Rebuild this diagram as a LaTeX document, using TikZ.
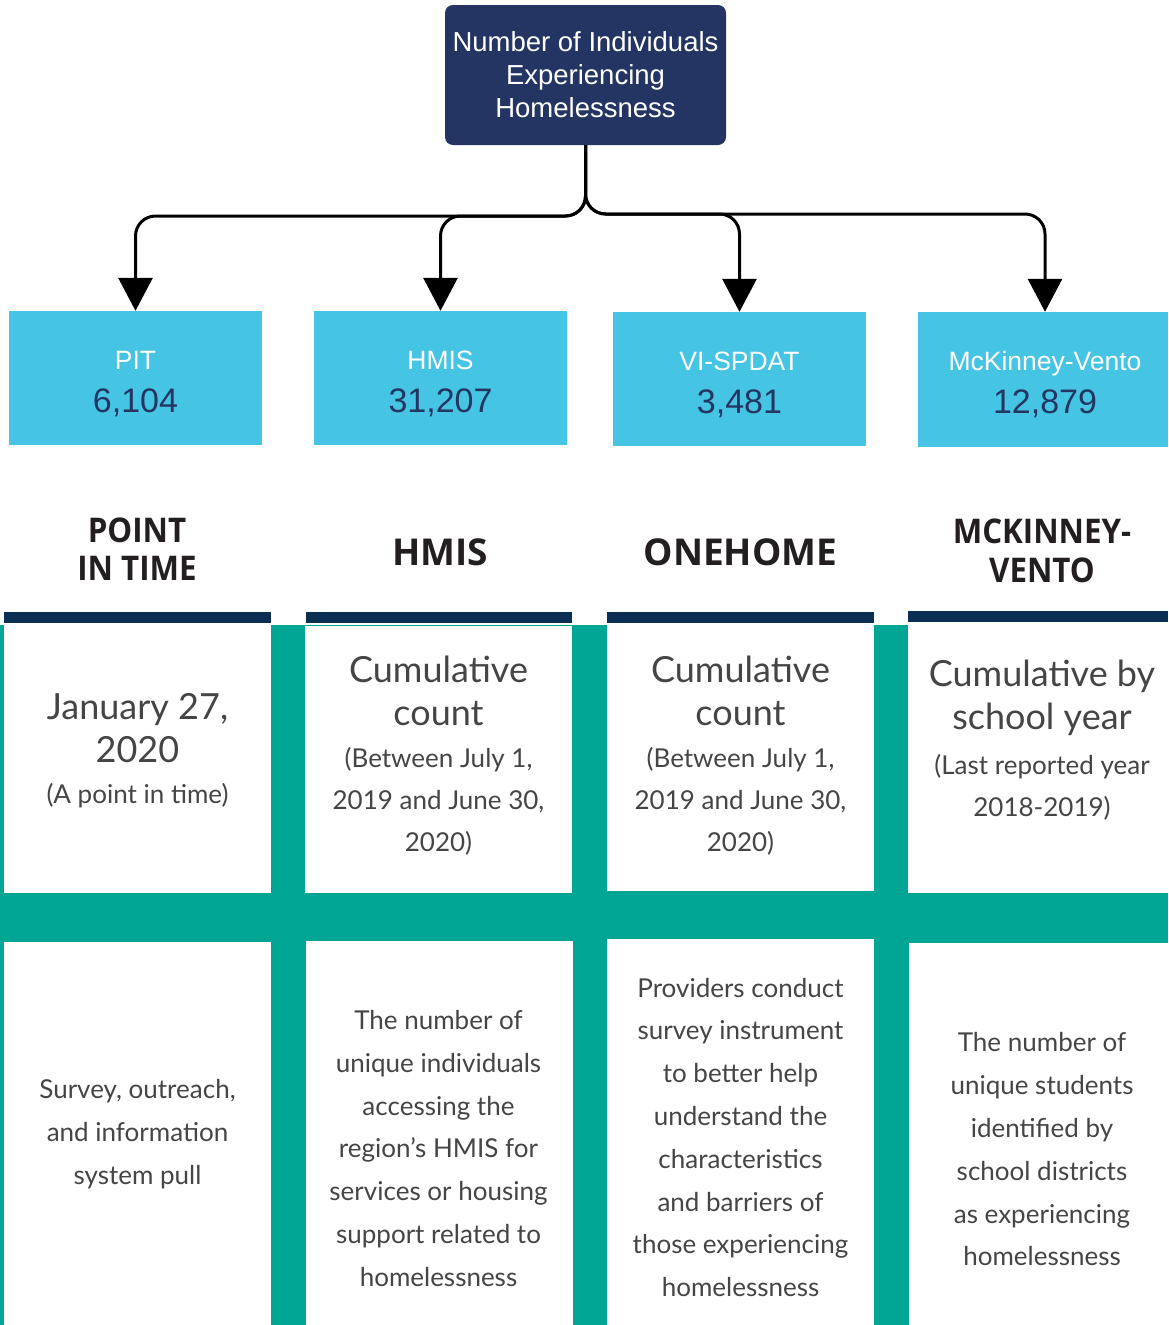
\documentclass[tikz,border=0pt]{standalone}
\usepackage{fontspec}
\setmainfont{Liberation Sans}
\newfontfamily\hdrfont{Open Sans}
\newfontfamily\hdrnarrow{Open Sans}[FakeStretch=0.92]
\newfontfamily\cellfont{Lato}
\usetikzlibrary{arrows.meta}
\definecolor{navy}{HTML}{243563}
\definecolor{cyanbox}{HTML}{45C4E3}
\definecolor{tealgrid}{HTML}{00A693}
\definecolor{barnavy}{HTML}{0B2F52}
\definecolor{hdrtext}{HTML}{231F20}
\definecolor{celltext}{HTML}{454545}
\tikzset{
  topbox/.style={fill=navy, rounded corners=8pt, minimum width=281pt, minimum height=140pt, inner sep=0pt, text=white, align=center, font=\fontsize{27.5}{33}\selectfont},
  cbox/.style={fill=cyanbox, minimum width=253pt, minimum height=134pt, inner sep=0pt},
  clabel/.style={text=white, anchor=base, inner sep=0pt, font=\fontsize{26.5}{30}\selectfont},
  cnum/.style={text=navy, anchor=base, inner sep=0pt, font=\fontsize{34}{38}\selectfont},
  hdr/.style={text=hdrtext, align=center, inner sep=0pt, font=\hdrfont\bfseries\fontsize{37}{38.5}\selectfont},
  hdrtwo/.style={text=hdrtext, align=center, inner sep=0pt, font=\hdrnarrow\bfseries\fontsize{34}{38.5}\selectfont},
  bar/.style={fill=barnavy},
  bigtxt/.style={text=celltext, align=center, inner sep=0pt, font=\cellfont\fontsize{36}{43}\selectfont},
  smalltxt/.style={text=celltext, align=center, inner sep=0pt, font=\cellfont\fontsize{26}{42}\selectfont},
  bodytxt/.style={text=celltext, align=center, inner sep=0pt, font=\cellfont\fontsize{26}{42.8}\selectfont},
  conn/.style={line width=3pt, rounded corners=20pt, -{Triangle[length=33pt,width=34pt]}}
}
\begin{document}
\begin{tikzpicture}[x=1pt,y=-1pt]
\useasboundingbox (0,0) rectangle (1168,1325);

% top box
\node[topbox] (top) at (585.5,75) {Number of Individuals\\Experiencing\\Homelessness};

% cyan boxes
\node[cbox] (pit) at (135.5,378) {};
\node[cbox] (hmis) at (440.5,378) {};
\node[cbox] (vi) at (739.5,379) {};
\node[cbox, minimum width=250pt, minimum height=135pt] (mv) at (1043,379.5) {};

\node[clabel] (pitl) at (135.5,369) {PIT};
\node[cnum] (pitn) at (135.5,412) {6,104};
\node[clabel] (hmisl) at (440.5,369) {HMIS};
\node[cnum] (hmisn) at (440.5,412) {31,207};
\node[clabel] (vil) at (739.5,370) {VI-SPDAT};
\node[cnum] (vin) at (739.5,413) {3,481};
\node[clabel] (mvl) at (1045,370) {McKinney-Vento};
\node[cnum] (mvn) at (1045,413) {12,879};

% connectors
\coordinate (b1) at (135.5,216);
\coordinate (b2) at (440.5,216);
\coordinate (b3) at (739.5,214);
\coordinate (b4) at (1045,214);
\draw[conn] (top.south) |- (b1) -- (pit.north);
\draw[conn] (top.south) |- (b2) -- (hmis.north);
\draw[conn] (top.south) |- (b3) -- (vi.north);
\draw[conn] (top.south) |- (b4) -- (mv.north -| b4);

% headers
\node[hdrtwo] (h1) at (137,549) {POINT\\IN TIME};
\node[hdr, anchor=base] (h2) at (440,565) {HMIS};
\node[hdr, anchor=base] (h3) at (740.5,565) {ONEHOME};
\node[hdrtwo] (h4) at (1042,551) {MCKINNEY-\\VENTO};

% navy bars
\fill[bar] (4,612) rectangle (271,623);
\fill[bar] (306,612) rectangle (572,623);
\fill[bar] (607,612) rectangle (874,623);
\fill[bar] (908,611) rectangle (1168,622);

% teal grid
\fill[tealgrid] (0,625) rectangle (1168,1325);
\fill[white] (4,625) rectangle (271,893);
\fill[white] (4,942) rectangle (271,1325);
\fill[white] (305,626) rectangle (572,893);
\fill[white] (306,941) rectangle (573,1325);
\fill[white] (607,625) rectangle (874,891);
\fill[white] (607,939) rectangle (874,1325);
\fill[white] (908,625) rectangle (1168,893);
\fill[white] (909,943) rectangle (1168,1325);

% top cells
\node[bigtxt] (c1a) at (137.5,728) {January 27,\\2020};
\node[smalltxt] (c1b) at (137.5,796) {(A point in time)};
\node[bigtxt] (c2a) at (438.5,691) {Cumulative\\count};
\node[smalltxt] (c2b) at (438.5,801) {(Between July 1,\\2019 and June 30,\\2020)};
\node[bigtxt] (c3a) at (740.5,691) {Cumulative\\count};
\node[smalltxt] (c3b) at (740.5,801) {(Between July 1,\\2019 and June 30,\\2020)};
\node[bigtxt] (c4a) at (1042,698) {Cumulative by\\school year};
\node[smalltxt] (c4b) at (1042,787) {(Last reported year\\2018-2019)};

% bottom cells
\node[bodytxt] (d1) at (137.5,1134) {Survey, outreach,\\and information\\system pull};
\node[bodytxt] (d2) at (438.5,1148.5) {The number of\\unique individuals\\accessing the\\region’s HMIS for\\services or housing\\support related to\\homelessness};
\node[bodytxt] (d3) at (740.5,1137.5) {Providers conduct\\survey instrument\\to better help\\understand the\\characteristics\\and barriers of\\those experiencing\\homelessness};
\node[bodytxt] (d4) at (1042,1149.5) {The number of\\unique students\\identified by\\school districts\\as experiencing\\homelessness};
\end{tikzpicture}
\end{document}
